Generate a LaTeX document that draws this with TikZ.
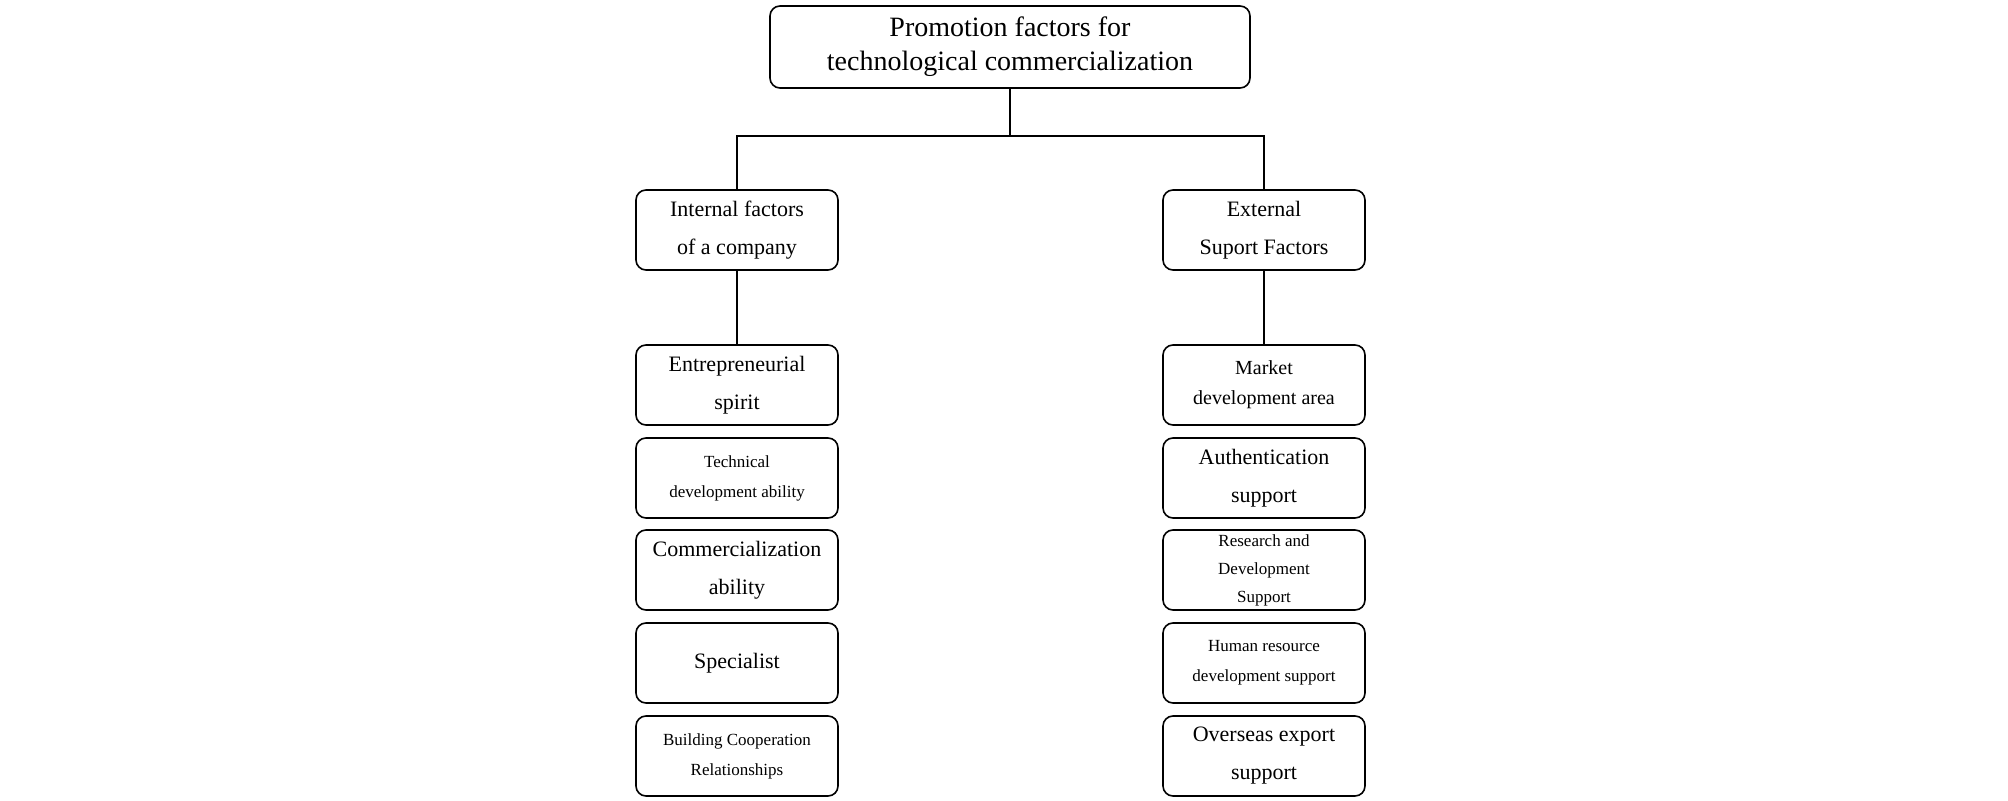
\documentclass[tikz,border=0pt]{standalone}
\usepackage{fontspec}
\setmainfont{Liberation Serif}
\begin{document}
\begin{tikzpicture}[x=0.5pt,y=-0.5pt,
  box/.style={draw,rounded corners=5pt,line width=0.8pt,minimum width=101pt,minimum height=40pt,align=center,inner sep=1pt},
  big/.style={font=\fontsize{14}{17}\selectfont},
  mid/.style={font=\fontsize{11}{19}\selectfont},
  sml/.style={font=\fontsize{8.5}{15}\selectfont},
  conn/.style={line width=0.8pt}]
\useasboundingbox (0,0) rectangle (2008,801);
\node[box,big,minimum width=240pt,minimum height=41pt] (top) at (1010,47) {Promotion factors for\\technological commercialization};
\node[box,mid] (int) at (737,230) {Internal factors\\of a company};
\node[box,mid] (ext) at (1264,230) {External\\Suport Factors};
\node[box,mid] (l1) at (737,385) {Entrepreneurial\\spirit};
\node[box,sml] (l2) at (737,478) {Technical\\development ability};
\node[box,mid] (l3) at (737,570) {Commercialization\\ability};
\node[box,mid] (l4) at (737,663) {Specialist};
\node[box,sml] (l5) at (737,756) {Building Cooperation\\Relationships};
\node[box,sml] (r1) at (1264,385) {\fontsize{10}{18}\selectfont Market\\\fontsize{10}{18}\selectfont development area};
\node[box,mid] (r2) at (1264,478) {Authentication\\support};
\node[box,sml,font=\fontsize{8.5}{14}\selectfont] (r3) at (1264,570) {Research and\\Development\\Support};
\node[box,sml] (r4) at (1264,663) {Human resource\\development support};
\node[box,mid] (r5) at (1264,756) {Overseas export\\support};
\coordinate (j) at (1010,136);
\draw[conn] (top.south) -- (j);
\draw[conn] (int.north) |- (j) -| (ext.north);
\draw[conn] (int) -- (l1);
\draw[conn] (ext) -- (r1);
\end{tikzpicture}
\end{document}
